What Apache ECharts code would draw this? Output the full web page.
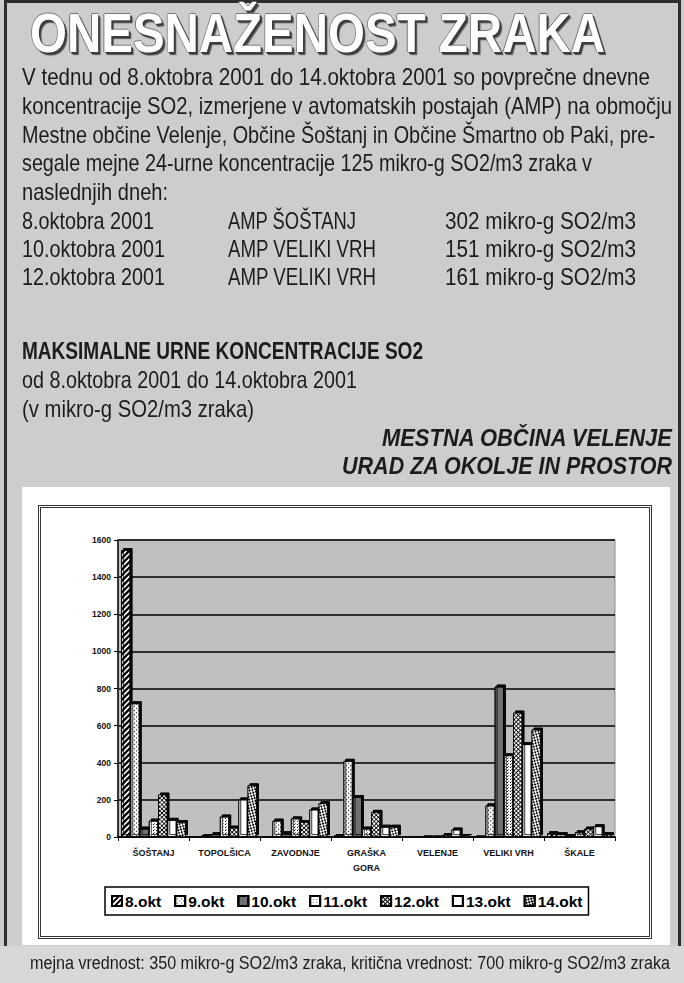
<!DOCTYPE html>
<html><head><meta charset="utf-8">
<script src="https://cdn.jsdelivr.net/npm/echarts/dist/echarts.min.js"></script>
<style>
body{margin:0;width:684px;height:983px;background:#cdcdcd;position:relative;overflow:hidden;font-family:'Liberation Sans',Arial,sans-serif;color:#1c1c1c}
.t{position:absolute;white-space:nowrap;line-height:1;transform-origin:0 50%;font-size:24px}
.b{font-weight:bold}
.i{font-style:italic;font-weight:bold;transform-origin:100% 50%}
#frameOuter{position:absolute;left:4px;top:0;width:671px;height:944px;border:3px solid #2e2e2e;border-bottom:none}
#title{position:absolute;left:30px;top:5px;font-family:'Liberation Sans',Arial,sans-serif;font-weight:bold;font-size:56px;color:#fff;line-height:1;white-space:nowrap;transform-origin:0 50%;text-shadow:2px 2px 0 #3c3c3c,1px 1px 0 #3c3c3c,-1px 0 0 #777,0 -1px 0 #777,3px 3px 1px #555}
#panel{position:absolute;left:22px;top:487px;width:648px;height:458px;background:#fff}
#chartFrame{position:absolute;left:16px;top:18px;width:614px;height:434px;border:3px double #333;box-sizing:border-box}
#chart{position:absolute;left:0;top:0;width:648px;height:458px}
#footer{position:absolute;left:0;top:946px;width:684px;height:37px;background:#d8d8d8}
</style></head>
<body>
<div id="frameOuter"></div>
<div id="title" data-w="575">ONESNAŽENOST ZRAKA</div>

<div class="t" style="left:22px;top:65px" data-w="628">V tednu od 8.oktobra 2001 do 14.oktobra 2001 so povprečne dnevne</div>
<div class="t" style="left:22px;top:94px" data-w="650">koncentracije SO2, izmerjene v avtomatskih postajah (AMP) na območju</div>
<div class="t" style="left:22px;top:123px" data-w="633">Mestne občine Velenje, Občine Šoštanj in Občine Šmartno ob Paki, pre-</div>
<div class="t" style="left:22px;top:151px" data-w="570">segale mejne 24-urne koncentracije 125 mikro-g SO2/m3 zraka v</div>
<div class="t" style="left:22px;top:180px" data-w="146">naslednjih dneh:</div>
<div class="t" style="left:22px;top:209px" data-w="132">8.oktobra 2001</div>
<div class="t" style="left:228px;top:209px" data-w="128">AMP ŠOŠTANJ</div>
<div class="t" style="left:445px;top:209px" data-w="191">302 mikro-g SO2/m3</div>
<div class="t" style="left:22px;top:237px" data-w="143">10.oktobra 2001</div>
<div class="t" style="left:228px;top:237px" data-w="148">AMP VELIKI VRH</div>
<div class="t" style="left:445px;top:237px" data-w="191">151 mikro-g SO2/m3</div>
<div class="t" style="left:22px;top:265px" data-w="143">12.oktobra 2001</div>
<div class="t" style="left:228px;top:265px" data-w="148">AMP VELIKI VRH</div>
<div class="t" style="left:445px;top:265px" data-w="191">161 mikro-g SO2/m3</div>

<div class="t b" style="left:22px;top:339px" data-w="401">MAKSIMALNE URNE KONCENTRACIJE SO2</div>
<div class="t" style="left:22px;top:368px" data-w="335">od 8.oktobra 2001 do 14.oktobra 2001</div>
<div class="t" style="left:22px;top:397px" data-w="232">(v mikro-g SO2/m3 zraka)</div>
<div class="t i" style="right:12px;top:426px" data-w="290">MESTNA OBČINA VELENJE</div>
<div class="t i" style="right:12px;top:454px" data-w="330">URAD ZA OKOLJE IN PROSTOR</div>

<div id="panel"><div id="chartFrame"></div><div id="chart"></div></div>
<div id="footer"></div>
<div class="t" style="left:30px;top:954px;font-size:18px" data-w="640">mejna vrednost: 350 mikro-g SO2/m3 zraka, kritična vrednost: 700 mikro-g SO2/m3 zraka</div>

<script>
// ---- data ----
const categories = ['ŠOŠTANJ','TOPOLŠICA','ZAVODNJE','GRAŠKA\nGORA','VELENJE','VELIKI VRH','ŠKALE'];
const days = ['8.okt','9.okt','10.okt','11.okt','12.okt','13.okt','14.okt'];
const okt8  = [1545, 3, 3, 10, 3, 8, 20];
const okt9  = [720, 10, 88, 410, 5, 170, 15];
const okt10 = [45, 15, 20, 215, 8, 810, 10];
const okt11 = [88, 110, 100, 45, 8, 440, 25];
const okt12 = [228, 50, 80, 135, 12, 670, 45];
const okt13 = [92, 202, 148, 55, 40, 500, 58];
const okt14 = [80, 278, 182, 55, 10, 578, 15];
const yTicks = [0,200,400,600,800,1000,1200,1400,1600];
const seriesValues = [okt8, okt9, okt10, okt11, okt12, okt13, okt14];

// ---- fit text widths ----
document.querySelectorAll('[data-w]').forEach(el=>{
  el.style.display='inline-block';
  const w = el.getBoundingClientRect().width;
  const target = +el.dataset.w;
  if (w>0) el.style.transform = 'scaleX(' + (target/w) + ')';
});

// ---- patterns ----
const none = {symbol:'rect', color:'rgba(0,0,0,0)'};
const styles = [
  {color:'#ffffff', decal:{symbol:'rect', symbolSize:1, dashArrayX:[[1,0]], dashArrayY:[2,2], rotation:-Math.PI/4, color:'#000'}},
  {color:'#ffffff', decal:{symbol:'rect', symbolSize:1, dashArrayX:[[1,2]], dashArrayY:[1,2], rotation:Math.PI/4, color:'#444'}},
  {color:'#6f6f6f', decal:none},
  {color:'#ffffff', decal:{symbol:'rect', symbolSize:1, dashArrayX:[[1,2]], dashArrayY:[1,2], color:'#777'}},
  {color:'#000000', decal:{symbol:'rect', symbolSize:1, dashArrayX:[[2,1]], dashArrayY:[2,1], color:'#fff'}},
  {color:'#ffffff', decal:none},
  {color:'#000000', decal:{symbol:'rect', symbolSize:1, dashArrayX:[[2,2],[0,2,2,0]], dashArrayY:[2,0], color:'#fff'}}
];

const chart = echarts.init(document.getElementById('chart'), null, {renderer:'svg'});
chart.setOption({
  animation:false,
  aria:{enabled:true, decal:{show:true}},
  grid:{left:96, top:53, width:497, height:297, show:true, backgroundColor:'#c0c0c0', borderColor:'#8a8a8a', borderWidth:1},
  legend:{
    data:days, left:83, top:400, itemWidth:10, itemHeight:10, itemGap:13,
    padding:[6,6], borderColor:'#000', borderWidth:1.5, icon:'rect',
    textStyle:{fontFamily:'Liberation Sans, Arial, sans-serif', fontWeight:'bold', fontSize:15.5, color:'#000', padding:[0,0,0,-2]}
  },
  xAxis:{
    type:'category', data:categories,
    axisLine:{lineStyle:{color:'#000', width:1.5}},
    axisTick:{show:true, length:4, lineStyle:{color:'#000'}},
    axisLabel:{fontFamily:'Liberation Sans, Arial, sans-serif', fontWeight:'bold', fontSize:9, color:'#111', margin:8, lineHeight:15, interval:0}
  },
  yAxis:{
    type:'value', min:yTicks[0], max:yTicks[yTicks.length-1], interval:200,
    axisLine:{show:true, lineStyle:{color:'#333', width:2}},
    axisTick:{show:true, length:4, lineStyle:{color:'#000'}},
    splitLine:{lineStyle:{color:'#000', width:1.5}},
    axisLabel:{fontFamily:'Liberation Sans, Arial, sans-serif', fontWeight:'bold', fontSize:8.5, color:'#111', margin:7, formatter:v=>String(v)}
  },
  series: days.map((d,i)=>({
    name:d, type:'bar', data:seriesValues[i],
    barGap:'0%', barCategoryGap:'9%',
    itemStyle:{color:styles[i].color, decal:styles[i].decal, borderColor:'#000', borderWidth:0.8,
      shadowColor:'rgba(0,0,0,0.95)', shadowOffsetX:2, shadowOffsetY:-2, shadowBlur:0}
  }))
});
</script>
</body></html>
